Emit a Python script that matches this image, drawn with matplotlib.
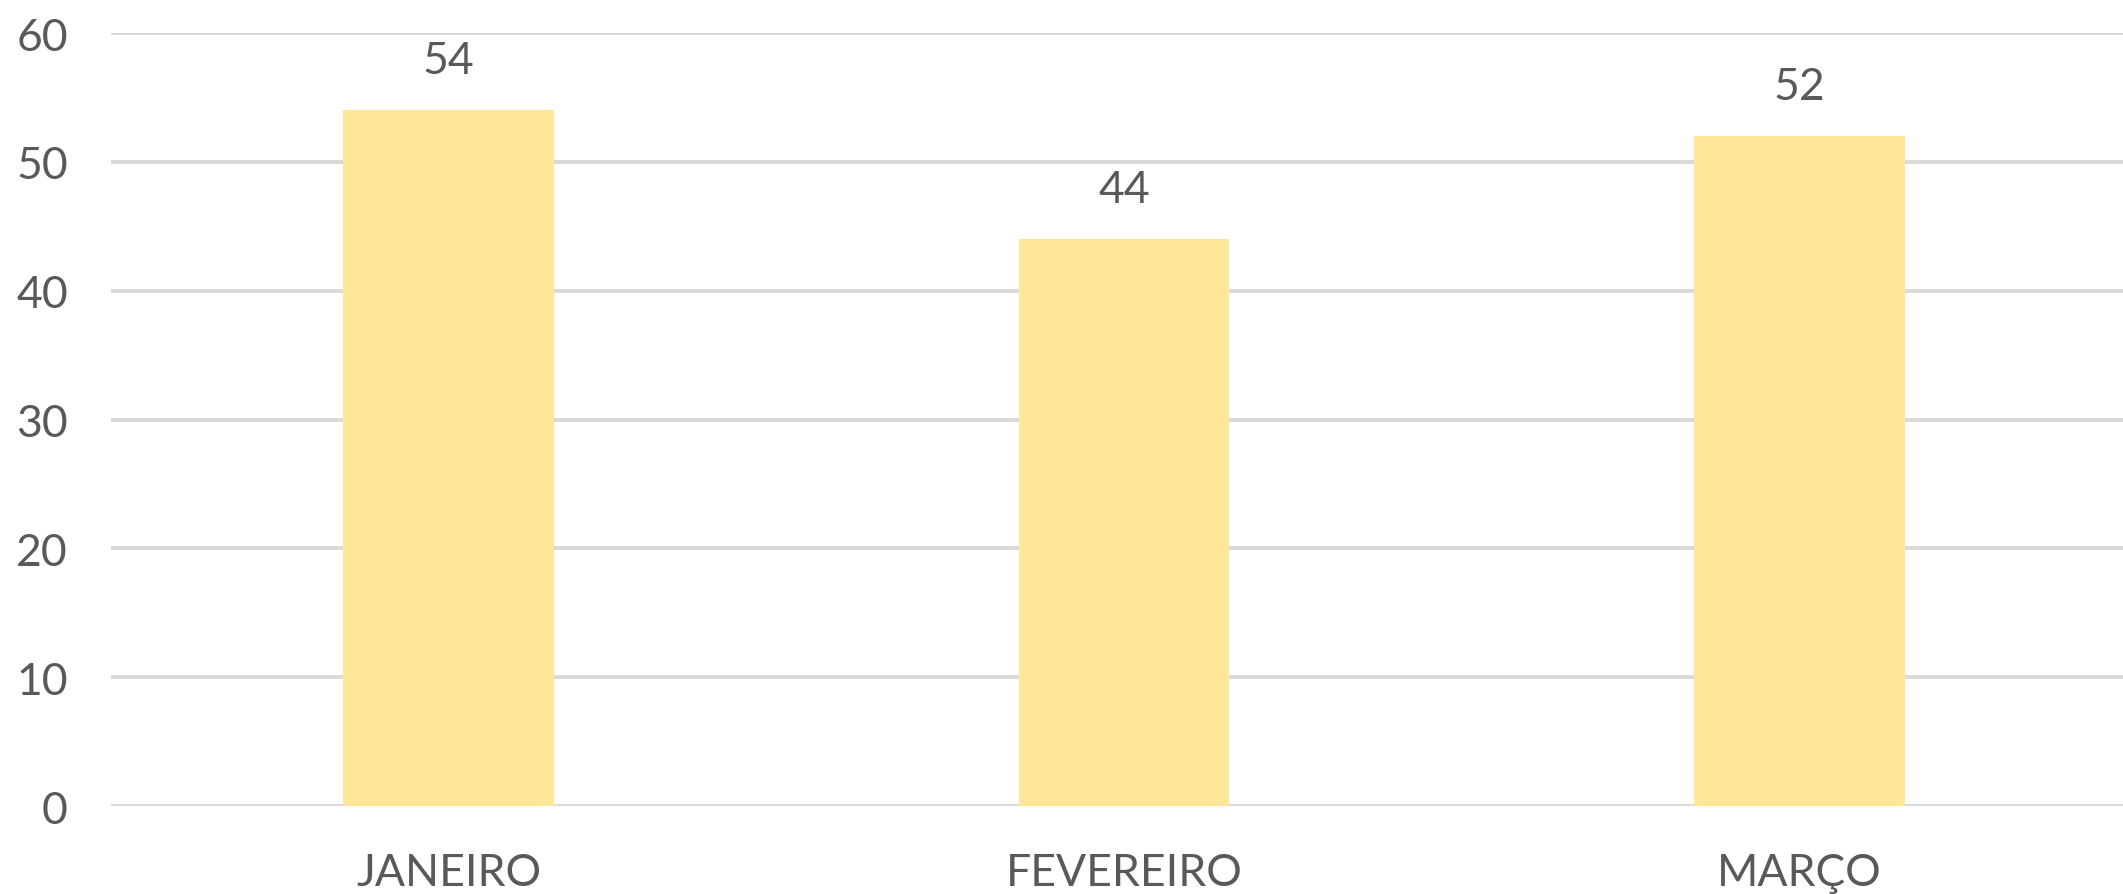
import matplotlib.pyplot as plt

# data
meses = ['JANEIRO', 'FEVEREIRO', 'MARÇO']
valores = [54, 44, 52]
yticks = [0, 10, 20, 30, 40, 50, 60]

cor_barra = '#FFE699'
cor_texto = '#595959'
cor_grade = '#D9D9D9'

plt.rcParams['font.family'] = ['Lato', 'DejaVu Sans']

fig = plt.figure(figsize=(21.23, 8.95), dpi=100)
ax = fig.add_axes([0.0523, 0.0983, 0.9477, 0.8637])

x = list(range(len(meses)))
bars = ax.bar(x, valores, width=0.312, color=cor_barra, zorder=3)

# value labels above bars
for xi, v in zip(x, valores):
    ax.annotate(str(v), (xi, v), xytext=(0, 36), textcoords='offset points',
                ha='center', va='center', fontsize=32, color=cor_texto)

ax.set_ylim(0, 60)
ax.set_xlim(-0.5, 2.479)
ax.set_yticks(yticks)
ax.set_xticks(x)
ax.set_xticklabels(meses)
ax.yaxis.grid(True, color=cor_grade, linewidth=2.8, zorder=0)
ax.set_axisbelow(True)
for s in ax.spines.values():
    s.set_visible(False)
ax.tick_params(axis='both', length=0, labelsize=32, colors=cor_texto)
ax.tick_params(axis='y', pad=31)
ax.tick_params(axis='x', pad=33)

fig.savefig('out.png', dpi=100)
